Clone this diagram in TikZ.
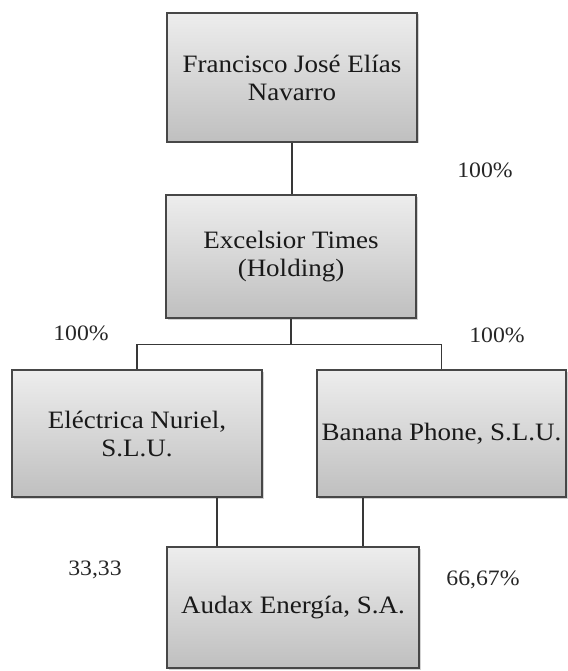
\documentclass[tikz,border=0pt]{standalone}
\usepackage{fontspec}
\setmainfont{Liberation Serif}[FakeStretch=1.08]
\usepackage{tikz}
\usetikzlibrary{shadows}

\tikzset{
  socio/.style={draw=black!72, line width=1.4pt, top color=gray!14, bottom color=gray!50,
    drop shadow={opacity=0.35, shadow xshift=1.5pt, shadow yshift=-1.5pt},
    minimum width=250pt, inner sep=0pt, align=center, text=black!90,
    font=\fontsize{25}{28}\selectfont},
  pct/.style={inner sep=0pt, text=black!85, font=\fontsize{22}{26}\selectfont},
  link/.style={draw=black!78, line width=1.3pt}
}

\begin{document}
\begin{tikzpicture}[x=1pt, y=-1pt]
			%%%	Help Lines
%			\draw [thin, help lines] (0,0) grid[step=50] (567,671);
			\useasboundingbox (0,0) rectangle (567,671);
			%%%	Sociedades
			\node [socio, minimum height=129pt] (fran) at (292,77.5) {Francisco José Elías\\Navarro};
			\node [socio, minimum height=123pt] (exc) at (291,256.5) {Excelsior Times\\(Holding)};
			\node [socio, minimum height=127pt] (elec) at (137,433.5) {Eléctrica Nuriel,\\S.L.U.};
			\node [socio, minimum height=127pt, minimum width=249pt] (ban) at (441.5,433.5) {Banana Phone, S.L.U.};
			\node [socio, minimum height=121pt, minimum width=252pt] (aud) at (293,607.5) {Audax Energía, S.A.};
			
			%%%	Participaciones
			\draw [link] (fran.south) -- (fran.south |- exc.north);
			\draw [link] (exc.south) -- ++(0,26) coordinate (bus);
			\draw [link] (elec.north) |- (bus) -| (ban.north);
			\draw [link] ([xshift=80pt]elec.south) -- ([xshift=80pt]elec.south |- aud.north);
			\draw [link] ([xshift=-78.5pt]ban.south) -- ([xshift=-78.5pt]ban.south |- aud.north);
			
			\node [pct] (pfran) at (485,170) {100\%};
			\node [pct] (pelec) at (81,333) {100\%};
			\node [pct] (pban) at (497,335) {100\%};
			\node [pct] (paudl) at (95,570) {33,33};
			\node [pct] (paudr) at (483,580) {66,67\%};
\end{tikzpicture}
\end{document}
